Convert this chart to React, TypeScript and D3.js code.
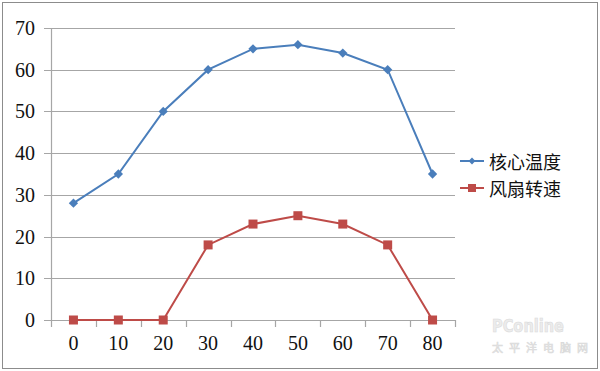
import React, { useEffect, useRef } from "react";
import * as d3 from "d3";

const categories = ["0", "10", "20", "30", "40", "50", "60", "70", "80"];
const coreTemp = [28, 35, 50, 60, 65, 66, 64, 60, 35];
const fanSpeed = [0, 0, 0, 18, 23, 25, 23, 18, 0];
const yTicks = [0, 10, 20, 30, 40, 50, 60, 70];
const seriesNames = ["核心温度", "风扇转速"];

const W = 600;
const H = 371;
const plot = { left: 51, right: 455, top: 28, bottom: 320 };
const blue = "#4a7ebb";
const red = "#be4b48";
const numFont = "Liberation Serif";
const cjkFont = "Noto Sans CJK SC";

const App = () => {
  const svgRef = useRef<SVGSVGElement>(null);

  useEffect(() => {
    document.body.style.margin = "0";
    const svg = d3.select(svgRef.current);
    svg.selectAll("*").remove();

    const x = d3.scaleBand().domain(categories).range([plot.left, plot.right]);
    const y = d3.scaleLinear().domain([0, 70]).range([plot.bottom, plot.top]);

    // outer frame
    svg.append("rect")
      .attr("x", 2.5).attr("y", 2.5)
      .attr("width", 595).attr("height", 366)
      .attr("fill", "#fff")
      .attr("stroke", "#8c8c8c");

    // gridlines
    svg.append("g")
      .selectAll("line")
      .data(yTicks)
      .enter()
      .append("line")
      .attr("x1", plot.left - 7)
      .attr("x2", plot.right)
      .attr("y1", d => Math.round(y(d)) + 0.5)
      .attr("y2", d => Math.round(y(d)) + 0.5)
      .attr("stroke", "#a6a6a6")
      .attr("stroke-width", 1.2);

    // y axis line
    svg.append("line")
      .attr("x1", plot.left + 0.5).attr("x2", plot.left + 0.5)
      .attr("y1", plot.top).attr("y2", plot.bottom)
      .attr("stroke", "#a6a6a6").attr("stroke-width", 1.2);

    // x tick marks at band boundaries
    const bounds = categories.map(c => x(c)!).concat([plot.right]);
    svg.append("g")
      .selectAll("line")
      .data(bounds)
      .enter()
      .append("line")
      .attr("x1", d => Math.round(d) + 0.5)
      .attr("x2", d => Math.round(d) + 0.5)
      .attr("y1", Math.round(y(0)))
      .attr("y2", Math.round(y(0)) + 7)
      .attr("stroke", "#a6a6a6").attr("stroke-width", 1.2);

    // y labels
    svg.append("g")
      .selectAll("text")
      .data(yTicks)
      .enter()
      .append("text")
      .attr("x", 35)
      .attr("y", d => y(d))
      .attr("text-anchor", "end")
      .attr("dominant-baseline", "central")
      .attr("font-family", numFont)
      .attr("font-size", 20)
      .attr("fill", "#111")
      .text(d => d);

    // x labels
    svg.append("g")
      .selectAll("text")
      .data(categories)
      .enter()
      .append("text")
      .attr("x", d => x(d)! + x.bandwidth() / 2)
      .attr("y", 343)
      .attr("text-anchor", "middle")
      .attr("dominant-baseline", "central")
      .attr("font-family", numFont)
      .attr("font-size", 20)
      .attr("fill", "#111")
      .text(d => d);

    const cx = (i: number) => x(categories[i])! + x.bandwidth() / 2;
    const line = d3.line<number>().x((_, i) => cx(i)).y(d => y(d));

    // watermark
    const wm = svg.append("g").attr("fill", "#ececec").attr("stroke", "#dadada").attr("stroke-width", 0.6);
    wm.append("text")
      .attr("x", 492).attr("y", 332)
      .attr("font-family", "DejaVu Sans")
      .attr("font-size", 17).attr("font-weight", "bold")
      .attr("textLength", 72).attr("lengthAdjust", "spacingAndGlyphs")
      .text("PConline");
    wm.append("text")
      .attr("x", 492).attr("y", 352)
      .attr("font-family", cjkFont)
      .attr("font-size", 11)
      .attr("textLength", 96)
      .text("太平洋电脑网");

    // series lines
    svg.append("path").datum(coreTemp)
      .attr("d", line).attr("fill", "none")
      .attr("stroke", blue).attr("stroke-width", 2);
    svg.append("path").datum(fanSpeed)
      .attr("d", line).attr("fill", "none")
      .attr("stroke", red).attr("stroke-width", 2);

    // markers
    const diamond = d3.symbol().type(d3.symbolDiamond2).size(55);
    svg.append("g").selectAll("path")
      .data(coreTemp).enter().append("path")
      .attr("d", diamond)
      .attr("transform", (d, i) => `translate(${cx(i)},${y(d)})`)
      .attr("fill", blue);
    svg.append("g").selectAll("rect")
      .data(fanSpeed).enter().append("rect")
      .attr("x", (d, i) => cx(i) - 4.5)
      .attr("y", d => y(d) - 4.5)
      .attr("width", 9).attr("height", 9)
      .attr("fill", red);

    // legend
    const colors = [blue, red];
    const lg = svg.append("g");
    seriesNames.forEach((name, i) => {
      const ly = 161 + i * 27;
      lg.append("line")
        .attr("x1", 460).attr("x2", 484)
        .attr("y1", ly).attr("y2", ly)
        .attr("stroke", colors[i]).attr("stroke-width", 2);
      if (i === 0) {
        lg.append("path")
          .attr("d", d3.symbol().type(d3.symbolDiamond2).size(30))
          .attr("transform", `translate(472,${ly})`)
          .attr("fill", colors[i]);
      } else {
        lg.append("rect")
          .attr("x", 468).attr("y", ly - 4)
          .attr("width", 8).attr("height", 8)
          .attr("fill", colors[i]);
      }
      lg.append("text")
        .attr("x", 489).attr("y", ly)
        .attr("dominant-baseline", "central")
        .attr("font-family", cjkFont)
        .attr("font-size", 18)
        .attr("fill", "#111")
        .text(name);
    });
  }, []);

  return <svg ref={svgRef} width={W} height={H} style={{ display: "block" }} />;
};

export default App;
